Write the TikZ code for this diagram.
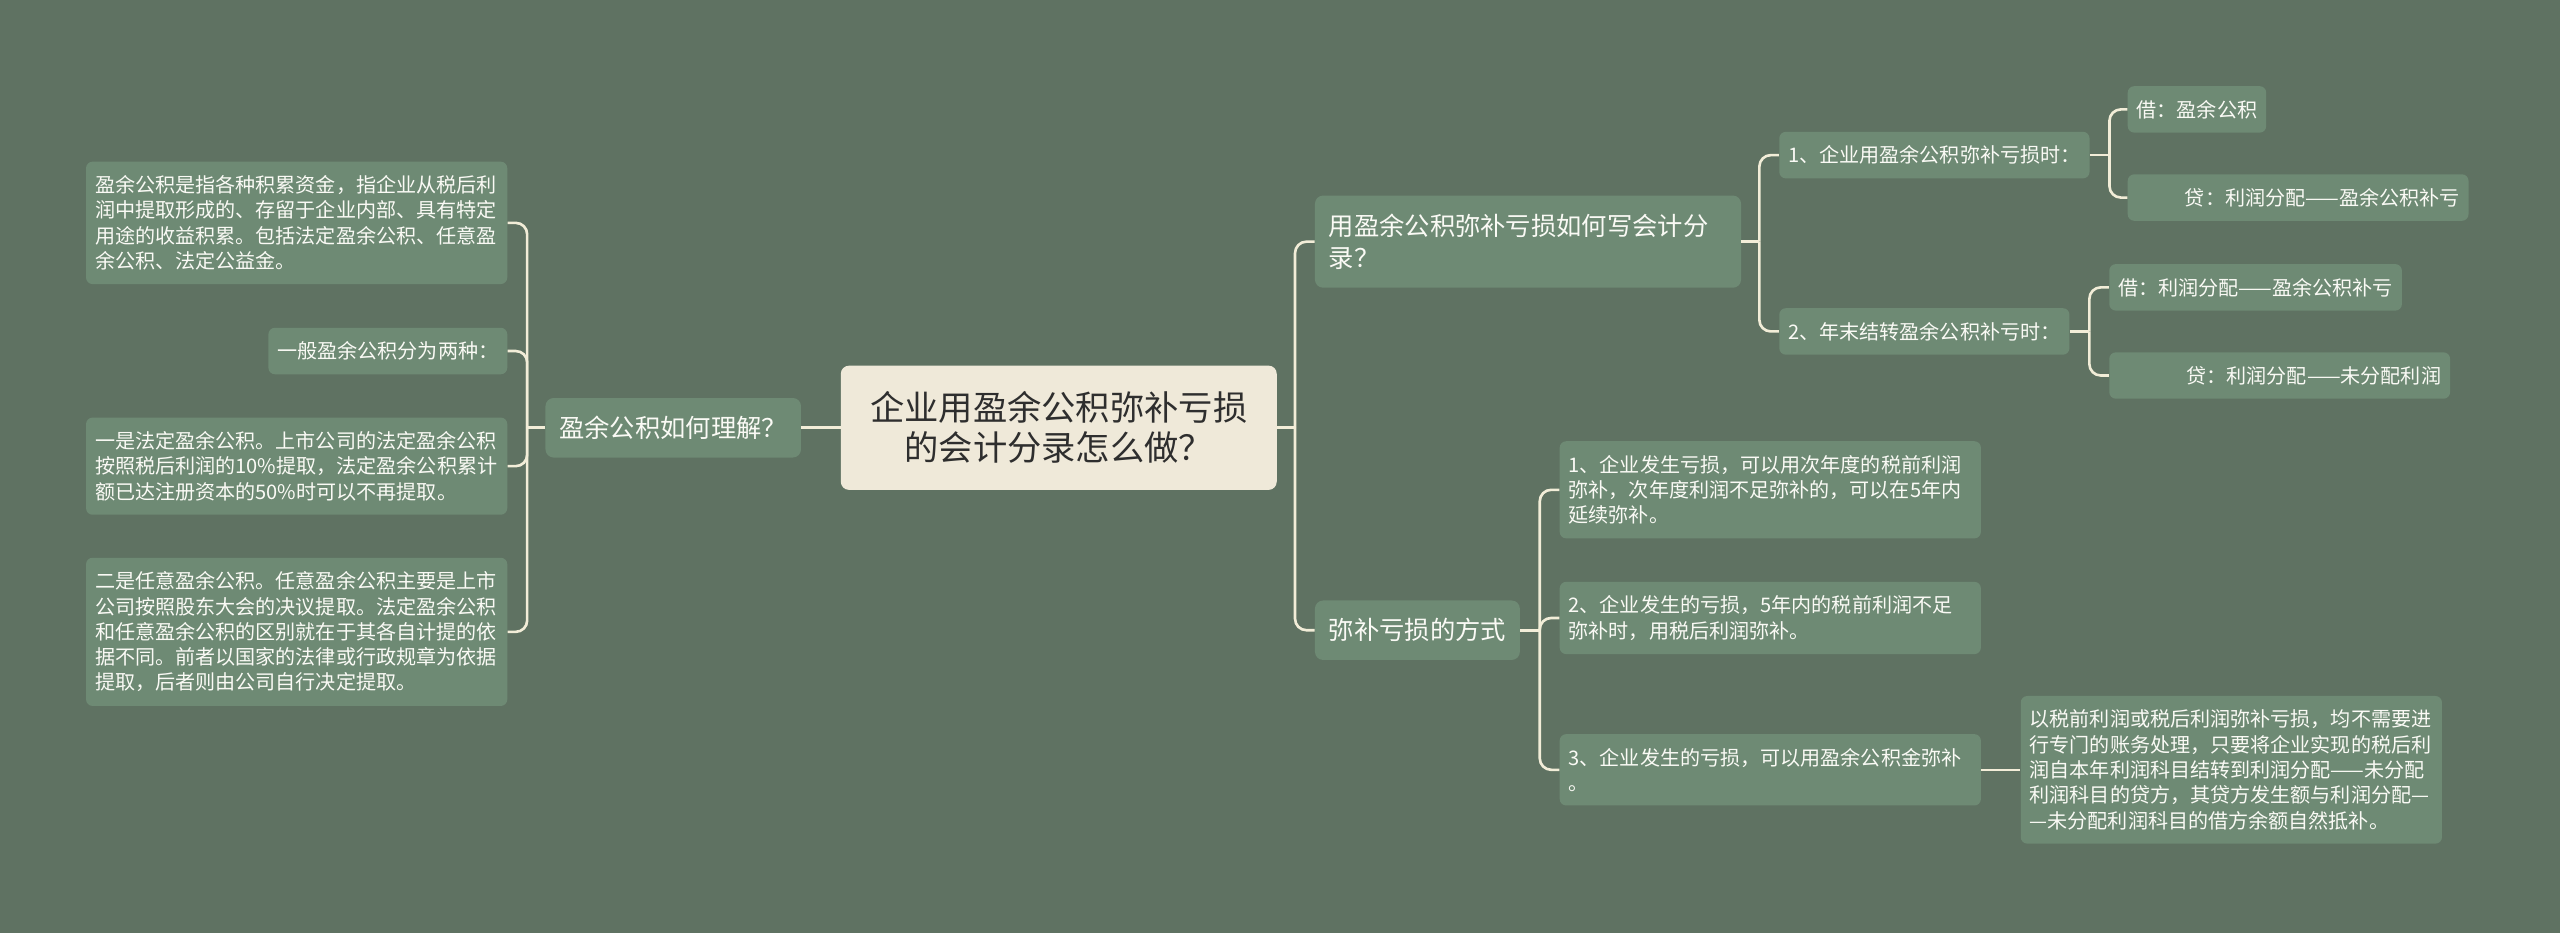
\documentclass[tikz,border=0pt]{standalone}
\usepackage{fontspec}
\setmainfont{Noto Sans CJK SC}
\usetikzlibrary{positioning}

\definecolor{bgcol}{HTML}{5F7262}
\definecolor{nodecol}{HTML}{6E8A74}
\definecolor{rootcol}{HTML}{EFE9D9}
\definecolor{rootink}{HTML}{2E2E2E}
\definecolor{linkcol}{HTML}{F2EDD8}
\definecolor{inkcol}{HTML}{FAFAF5}

\begin{document}
\begin{tikzpicture}[
  rootbox/.style = {rectangle, fill=rootcol, text=rootink, rounded corners=5pt,
                    inner xsep=18pt, inner ysep=16pt, align=center,
                    font=\fontsize{21pt}{24.5pt}\selectfont},
  topic/.style   = {rectangle, fill=nodecol, text=inkcol, rounded corners=5pt,
                    inner xsep=8.5pt, inner ysep=11pt, align=left,
                    font=\fontsize{15.5pt}{20pt}\selectfont},
  leaf/.style    = {rectangle, fill=nodecol, text=inkcol, rounded corners=4pt,
                    inner xsep=5.5pt, inner ysep=8.5pt, align=left,
                    font=\fontsize{12.3pt}{15.5pt}\selectfont},
  wide/.style    = {leaf, text width=247pt},
  link/.style    = {draw=linkcol, line width=1.6pt, rounded corners=7pt}
]
\fill[bgcol] (0pt,0pt) rectangle (1568pt,-571.45pt);
\useasboundingbox (0pt,0pt) rectangle (1568pt,-571.45pt);

\node[rootbox] (root) at (648.5pt,-262pt) {企业用盈余公积弥补亏损\\的会计分录怎么做？};

\node[topic, left=24pt of root] (why) {盈余公积如何理解？};
\node[wide, left=23pt of why, yshift=125.5pt] (def)
  {盈余公积是指各种积累资金，指企业从税后利\\润中提取形成的、存留于企业内部、具有特定\\用途的收益积累。包括法定盈余公积、任意盈\\余公积、法定公益金。};
\node[leaf, left=23pt of why, yshift=47pt] (kinds) {一般盈余公积分为两种：};
\node[wide, left=23pt of why, yshift=-23.5pt] (legal)
  {一是法定盈余公积。上市公司的法定盈余公积\\按照税后利润的10\%提取，法定盈余公积累计\\额已达注册资本的50\%时可以不再提取。};
\node[wide, left=23pt of why, yshift=-125pt] (free)
  {二是任意盈余公积。任意盈余公积主要是上市\\公司按照股东大会的决议提取。法定盈余公积\\和任意盈余公积的区别就在于其各自计提的依\\据不同。前者以国家的法律或行政规章为依据\\提取，后者则由公司自行决定提取。};

\node[topic, right=23pt of root, yshift=114pt, text width=244pt] (entry)
  {用盈余公积弥补亏损如何写会计分\\录？};
\node[topic, right=23pt of root, yshift=-124pt] (ways) {弥补亏损的方式};

\node[leaf, right=23pt of entry, yshift=53pt] (use) {1、企业用盈余公积弥补亏损时：};
\node[leaf, right=23pt of entry, yshift=-55pt] (close) {2、年末结转盈余公积补亏时：};
\node[leaf, right=23pt of use, yshift=28pt] (useDr) {借：盈余公积};
\node[leaf, right=23pt of use, yshift=-26pt] (useCr) {\hspace*{2.4em}贷：利润分配——盈余公积补亏};
\node[leaf, right=24pt of close, yshift=27pt] (closeDr) {借：利润分配——盈余公积补亏};
\node[leaf, right=24pt of close, yshift=-27pt] (closeCr) {\hspace*{3.4em}贷：利润分配——未分配利润};

\node[wide, right=24pt of ways, yshift=86pt] (way1)
  {1、企业发生亏损，可以用次年度的税前利润\\弥补，次年度利润不足弥补的，可以在5年内\\延续弥补。};
\node[wide, right=24pt of ways, yshift=7.5pt] (way2)
  {2、企业发生的亏损，5年内的税前利润不足\\弥补时，用税后利润弥补。};
\node[wide, right=24pt of ways, yshift=-85.5pt] (way3)
  {3、企业发生的亏损，可以用盈余公积金弥补\\。};
\node[wide, right=24pt of way3] (note)
  {以税前利润或税后利润弥补亏损，均不需要进\\行专门的账务处理，只要将企业实现的税后利\\润自本年利润科目结转到利润分配——未分配\\利润科目的贷方，其贷方发生额与利润分配—\\—未分配利润科目的借方余额自然抵补。};

\draw[link] (root.west) -- (why.east);
\draw[link] (why.west) -- ++(-11pt,0) coordinate (whyJ);
\foreach \n in {def,kinds,legal,free}
  \draw[link] (\n.east) -| (whyJ);

\draw[link] (root.east) -- ++(11pt,0) coordinate (rootJ);
\foreach \n in {entry,ways}
  \draw[link] (\n.west) -| (rootJ);

\draw[link] (entry.east) -- ++(11pt,0) coordinate (entryJ);
\foreach \n in {use,close}
  \draw[link] (\n.west) -| (entryJ);

\draw[link] (use.east) -- ++(12pt,0) coordinate (useJ);
\foreach \n in {useDr,useCr}
  \draw[link] (\n.west) -| (useJ);

\draw[link] (close.east) -- ++(12pt,0) coordinate (closeJ);
\foreach \n in {closeDr,closeCr}
  \draw[link] (\n.west) -| (closeJ);

\draw[link] (ways.east) -- ++(12pt,0) coordinate (waysJ);
\foreach \n in {way1,way2,way3}
  \draw[link] (\n.west) -| (waysJ);

\draw[link] (way3.east) -- (note.west);
\end{tikzpicture}
\end{document}
